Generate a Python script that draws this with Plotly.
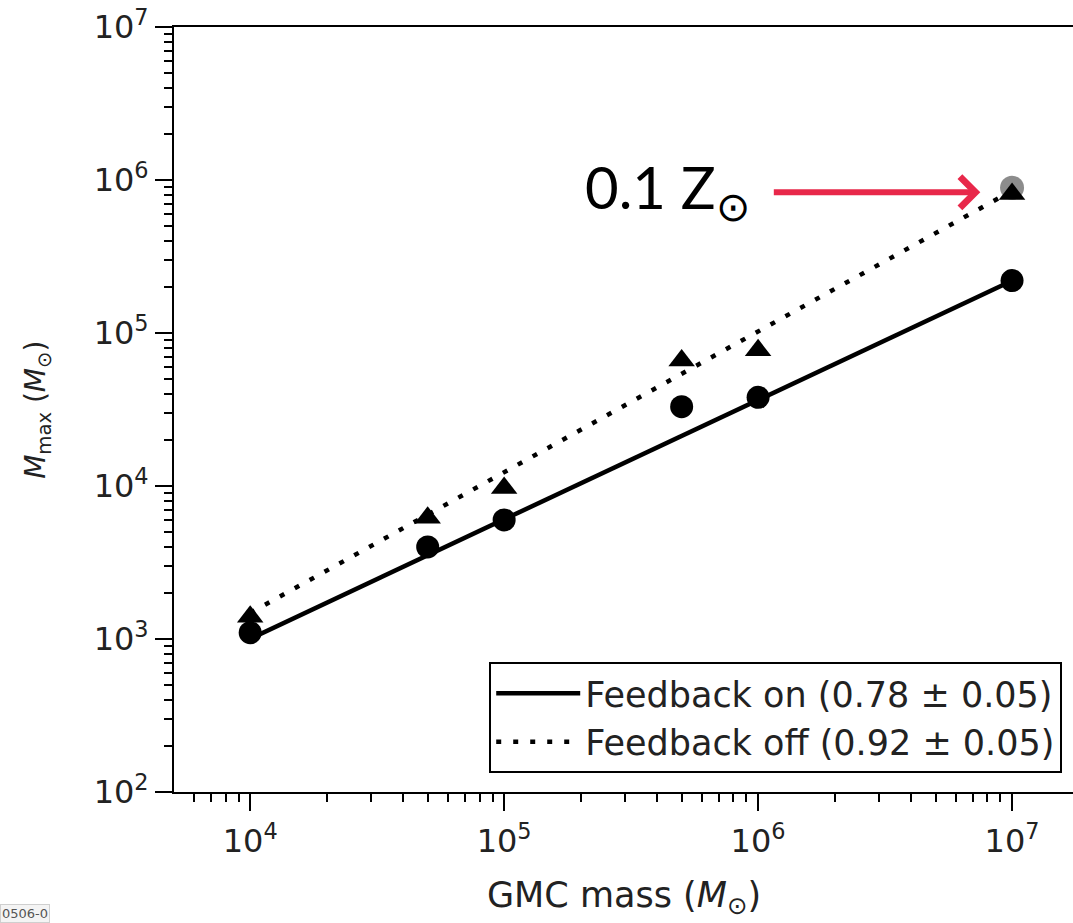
import plotly.graph_objects as go

# GMC simulations: most massive cluster formed vs. cloud mass
gmc_mass = [1e4, 5e4, 1e5, 5e5, 1e6, 1e7]
mmax_feedback_on = [1.1e3, 4.0e3, 6.0e3, 3.3e4, 3.8e4, 2.2e5]
mmax_feedback_off = [1.4e3, 6.2e3, 9.7e3, 6.6e4, 7.7e4, 8.1e5]

# low-metallicity run (0.1 Z_sun)
low_z_mass = [1e7]
low_z_mmax = [8.9e5]

# power-law fits  M_max = norm * M_GMC ** slope
slope_on, slope_off = 0.78, 0.92
log_norm_on, log_norm_off = -0.118, -0.51
fit_range = [1e4, 1e7]

x_tickvals = [1e4, 1e5, 1e6, 1e7]
x_ticktext = ["10<sup>4</sup>", "10<sup>5</sup>", "10<sup>6</sup>", "10<sup>7</sup>"]
y_tickvals = [1e2, 1e3, 1e4, 1e5, 1e6, 1e7]
y_ticktext = ["10<sup>2</sup>", "10<sup>3</sup>", "10<sup>4</sup>",
              "10<sup>5</sup>", "10<sup>6</sup>", "10<sup>7</sup>"]

fit_on = [10 ** log_norm_on * m ** slope_on for m in fit_range]
fit_off = [10 ** log_norm_off * m ** slope_off for m in fit_range]

FONT = "DejaVu Sans, Liberation Sans, sans-serif"
TEXT = "#222"

fig = go.Figure()

fig.add_trace(go.Scatter(
    x=fit_range, y=fit_on, mode="lines",
    line=dict(color="black", width=4.5),
    name=f"Feedback on ({slope_on:.2f} ± 0.05)",
))
fig.add_trace(go.Scatter(
    x=fit_range, y=fit_off, mode="lines",
    line=dict(color="black", width=4.5, dash="5px,12px"),
    name=f"Feedback off ({slope_off:.2f} ± 0.05)",
))
fig.add_trace(go.Scatter(
    x=low_z_mass, y=low_z_mmax, mode="markers",
    marker=dict(symbol="circle", size=24, color="#8c8c8c"),
    showlegend=False,
))
fig.add_trace(go.Scatter(
    x=gmc_mass, y=mmax_feedback_on, mode="markers",
    marker=dict(symbol="circle", size=23, color="black"),
    showlegend=False,
))
fig.add_trace(go.Scatter(
    x=gmc_mass, y=mmax_feedback_off, mode="markers",
    marker=dict(symbol="triangle-up", size=23, color="black"),
    showlegend=False,
))

axis_common = dict(
    type="log",
    showgrid=False,
    zeroline=False,
    showline=True,
    linecolor="black",
    linewidth=2,
    ticks="outside",
    ticklen=17,
    tickwidth=2,
    tickcolor="black",
    tickfont=dict(family=FONT, size=32, color=TEXT),
    minor=dict(ticks="outside", ticklen=8, tickwidth=2, tickcolor="black",
               dtick="D1", showgrid=False),
)

fig.update_xaxes(
    **axis_common,
    range=[3.7, 7.24],
    tickvals=x_tickvals, ticktext=x_ticktext,
    mirror=True,
    ticklabelstandoff=3,
)
fig.update_yaxes(
    **axis_common,
    range=[2, 7],
    tickvals=y_tickvals, ticktext=y_ticktext,
)

fig.update_layout(
    width=1073, height=923,
    margin=dict(l=174, r=0, t=27, b=131),
    paper_bgcolor="white", plot_bgcolor="white",
    font=dict(family=FONT, color=TEXT),
    legend=dict(
        x=0.988, y=0.025, xanchor="right", yanchor="bottom",
        bgcolor="white", bordercolor="black", borderwidth=2,
        font=dict(family=FONT, size=35, color=TEXT),
        itemwidth=84,
        tracegroupgap=0,
    ),
    annotations=[
        dict(
            text="<i>M</i><sub>max</sub> (<i>M</i><sub>⊙</sub>)",
            xref="paper", yref="paper", x=-0.152, y=0.50,
            xanchor="center", yanchor="middle",
            textangle=-90, showarrow=False,
            font=dict(family=FONT, size=28, color=TEXT),
        ),
        dict(
            text="GMC mass (<i>M</i><sub>⊙</sub>)",
            xref="paper", yref="paper", x=0.5, y=-0.138,
            xanchor="center", yanchor="middle", showarrow=False,
            font=dict(family=FONT, size=35, color=TEXT),
        ),
        dict(
            text="0.1 Z<sub>⊙</sub>",
            xref="x", yref="y", x=5.975, y=5.93,
            xanchor="right", yanchor="middle", showarrow=False,
            font=dict(family="Lato, sans-serif", size=58, color="black"),
        ),
        dict(
            text="", xref="x", yref="y", x=6.875, y=5.92,
            ax=-208, ay=0, showarrow=True,
            arrowhead=4, arrowsize=1, arrowwidth=6, arrowcolor="#e8284a",
        ),
        dict(
            text="0506-0", xref="paper", yref="paper",
            x=-0.194, y=-0.171, xanchor="left", yanchor="bottom",
            showarrow=False, bgcolor="#f4f4f4", bordercolor="#cfcfcf",
            borderwidth=1, borderpad=1,
            font=dict(family=FONT, size=13, color="#555"),
        ),
    ],
)

fig.write_html("out.html")
